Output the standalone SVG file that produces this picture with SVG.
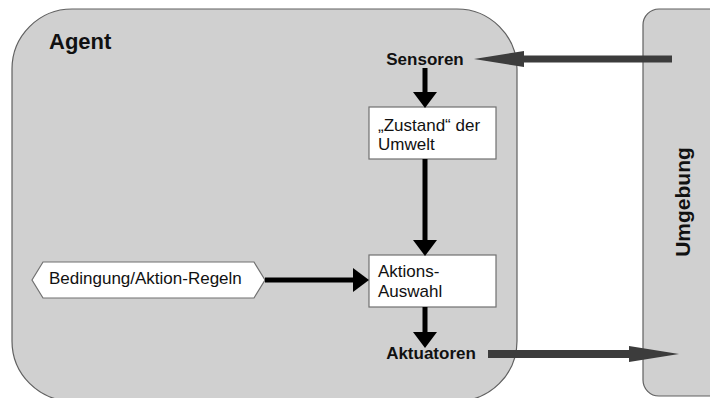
<svg xmlns="http://www.w3.org/2000/svg" width="710" height="398" viewBox="0 0 710 398">
<style>
.frame{fill:#d0d0d0;stroke:#606060;stroke-width:1.2}
.box{fill:#ffffff;stroke:#707070;stroke-width:1.2}
.t{font-family:"Liberation Sans",Arial,sans-serif;font-size:17px;fill:#111}
.b{font-weight:bold}
.blk{stroke:#000;stroke-width:5;fill:none}
.gry{stroke:#3c3c3c;fill:none}
</style>
<defs>
<marker id="hb" markerUnits="userSpaceOnUse" markerWidth="18" markerHeight="26" refX="0" refY="12" orient="auto" viewBox="0 0 18 24">
<path d="M0,0 L16,12 L0,24 Z" fill="#000"/>
</marker>
<marker id="hg" markerUnits="userSpaceOnUse" markerWidth="52" markerHeight="18" refX="0" refY="8" orient="auto" viewBox="0 0 52 16">
<path d="M0,0 L50,8 L0,16 Z" fill="#3c3c3c"/>
</marker>
</defs>
<rect width="710" height="398" fill="#ffffff"/>
<g id="agent">
<rect class="frame" x="12" y="9" width="505" height="392" rx="60" ry="60"/>
<text class="t b" x="49" y="49" style="font-size:22px">Agent</text>
</g>
<g id="umgebung">
<rect class="frame" x="643" y="9" width="90" height="387" rx="16" ry="16"/>
<text class="t b" transform="translate(690,202) rotate(-90)" text-anchor="middle" style="font-size:21px">Umgebung</text>
</g>
<g id="sensoren">
<text class="t b" x="425" y="65" text-anchor="middle">Sensoren</text>
</g>
<g id="zustand">
<rect class="box" x="369" y="107" width="127" height="52"/>
<text class="t" x="378" y="131">„Zustand“ der</text>
<text class="t" x="378" y="150">Umwelt</text>
</g>
<g id="aktionsauswahl">
<rect class="box" x="369" y="255" width="127" height="52"/>
<text class="t" x="378" y="277">Aktions-</text>
<text class="t" x="378" y="297">Auswahl</text>
</g>
<g id="regeln">
<polygon class="box" points="32,280 43,262 254,262 265,280 254,298 43,298"/>
<text class="t" x="49" y="284">Bedingung/Aktion-Regeln</text>
</g>
<g id="aktuatoren">
<text class="t b" x="431" y="359" text-anchor="middle">Aktuatoren</text>
</g>
<g id="connectors">
<line class="gry" x1="672" y1="59" x2="524" y2="59" stroke-width="7" marker-end="url(#hg)"/>
<line class="blk" x1="425" y1="68" x2="425" y2="92" marker-end="url(#hb)"/>
<line class="blk" x1="425" y1="159" x2="425" y2="240" marker-end="url(#hb)"/>
<line class="blk" x1="265" y1="280" x2="353" y2="280" marker-end="url(#hb)"/>
<line class="blk" x1="425" y1="307" x2="425" y2="332" marker-end="url(#hb)"/>
<line class="gry" x1="488" y1="354" x2="629" y2="354" stroke-width="8" marker-end="url(#hg)"/>
</g>
</svg>
